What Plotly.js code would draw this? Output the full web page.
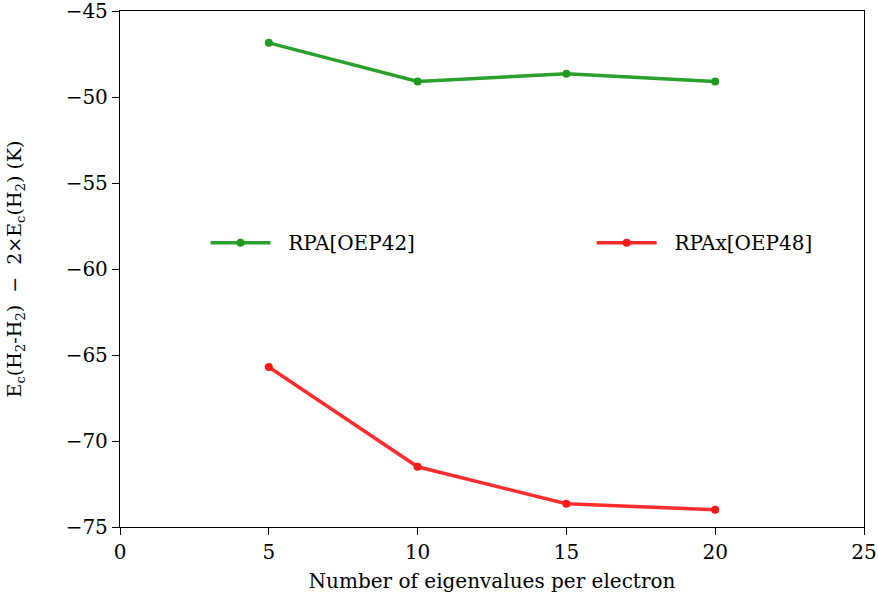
<!DOCTYPE html>
<html><head><meta charset="utf-8">
<script src="https://cdn.plot.ly/plotly-3.0.1.min.js"></script>
<style>html,body{margin:0;padding:0;background:#fff}</style>
</head><body>
<div id="plot" style="width:878px;height:605px"></div>
<script>
const eigenvalues = [5, 10, 15, 20];
const rpaOEP42 = [-46.85, -49.1, -48.65, -49.1];
const rpaxOEP48 = [-65.7, -71.5, -73.65, -74.0];
const xTicks = [0, 5, 10, 15, 20, 25];
const yTicks = [-75, -70, -65, -60, -55, -50, -45];

const FONT = "'DejaVu Serif', serif";
const traces = [
  {x: eigenvalues, y: rpaOEP42, name: '\u00a0\u00a0RPA[OEP42]', mode: 'lines+markers', legend: 'legend',
   line: {color: '#2ca02c', width: 3.5}, marker: {color: '#1e9a1e', size: 8}},
  {x: eigenvalues, y: rpaxOEP48, name: '\u00a0\u00a0RPAx[OEP48]', mode: 'lines+markers', legend: 'legend2',
   line: {color: '#ff2d2d', width: 3.5}, marker: {color: '#f81a1a', size: 8}}
];
const axisCommon = {showline: true, mirror: true, linecolor: '#000', linewidth: 1.3,
  ticks: 'outside', ticklen: 7, tickwidth: 1.3, tickcolor: '#000', showgrid: false,
  zeroline: false, ticklabeloverflow: 'allow',
  tickfont: {family: FONT, size: 20, color: '#000'}};
const legendCommon = {orientation: 'h', y: 0.551, xanchor: 'left', yanchor: 'middle',
  itemwidth: 60, font: {family: FONT, size: 20, color: '#000'}, bgcolor: 'rgba(0,0,0,0)'};
const layout = {
  width: 878, height: 605,
  margin: {l: 120, r: 14, t: 11, b: 78},
  paper_bgcolor: '#fff', plot_bgcolor: '#fff',
  font: {family: FONT, color: '#000'},
  showlegend: true,
  legend: Object.assign({}, legendCommon, {x: 0.115}),
  legend2: Object.assign({}, legendCommon, {x: 0.634}),
  xaxis: Object.assign({}, axisCommon, {range: [0, 25], tickvals: xTicks,
    title: {text: 'Number of eigenvalues per electron', font: {family: FONT, size: 20}, standoff: 10}}),
  yaxis: Object.assign({}, axisCommon, {range: [-75, -45], tickvals: yTicks,
    title: {text: 'E<sub>c</sub>(H<sub>2</sub>-H<sub>2</sub>) \u00a0−\u00a0 2×E<sub>c</sub>(H<sub>2</sub>) (K)', font: {family: FONT, size: 19}, standoff: 38}})
};
Plotly.newPlot('plot', traces, layout, {displayModeBar: false});
</script>
</body></html>
